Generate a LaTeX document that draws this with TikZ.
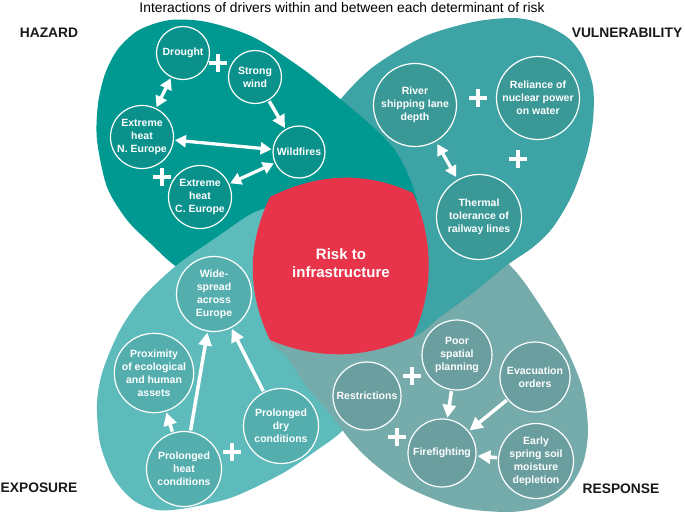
\documentclass[tikz,border=0pt]{standalone}
\usepackage{fontspec}
\setmainfont{Liberation Sans}
\usetikzlibrary{arrows.meta}
\definecolor{hazC}{RGB}{0,153,145}
\definecolor{hazD}{RGB}{10,145,139}
\definecolor{vulC}{RGB}{62,163,164}
\definecolor{vulD}{RGB}{58,152,151}
\definecolor{expC}{RGB}{93,187,187}
\definecolor{expD}{RGB}{84,174,174}
\definecolor{resC}{RGB}{117,171,170}
\definecolor{resD}{RGB}{107,158,159}
\definecolor{riskC}{RGB}{232,52,74}
\tikzset{
  drv/.style={circle, draw=white, line width=1.2pt, inner sep=0pt, align=center,
    text=white, font=\fontsize{10.5}{13}\selectfont\bfseries},
  hz/.style={drv, fill=hazD},
  vu/.style={drv, fill=vulD},
  ex/.style={drv, fill=expD},
  re/.style={drv, fill=resD},
  arr/.style={draw=white, line width=3.5pt, -{Triangle[length=13pt,width=13pt]},
    shorten >=1pt, shorten <=1pt},
  darr/.style={draw=white, line width=3.3pt,
    {Triangle[length=11pt,width=12pt]}-{Triangle[length=11pt,width=12pt]},
    shorten >=1pt, shorten <=1pt},
  lbl/.style={font=\fontsize{13.8}{16}\selectfont\bfseries, text=black!90, inner sep=0pt},
  plussign/.pic={\draw[white, line width=3.8pt] (-9,0) -- (9,0) (0,-9) -- (0,9);}
}
\begin{document}
\begin{tikzpicture}[x=1pt,y=-1pt]
\useasboundingbox[fill=white] (0,0) rectangle (685,514);

% vulnerability petal (base)
\def\vulpath{plot[smooth cycle] coordinates {(340,100) (373,67) (423,37) (473,22) (513,18) (540,23) (567,37) (583,57) (593,87) (593,120) (587,153) (573,193) (553,227) (533,247) (507,265) (473,293) (440,317) (413,337) (380,330) (330,300) (295,250) (300,180) (320,130)}}
\fill[vulC] \vulpath;
% hazard petal
\fill[hazC] plot[smooth cycle] coordinates {(333,93) (373,127) (397,153) (413,187) (421,220) (415,255) (390,280) (330,292) (260,290) (210,280) (177,267) (150,243) (127,220) (107,187) (97,140) (98,104) (105,74) (118,49) (139,30) (170,20) (207,22) (253,37) (300,67)};
% exposure petal
\fill[expC] plot[smooth cycle] coordinates {(177,265) (217,237) (253,213) (282,205) (320,205) (370,240) (395,300) (385,360) (365,405) (340,433) (317,450) (283,473) (233,497) (187,508) (157,510) (133,500) (113,477) (100,443) (97,403) (103,370) (120,330) (143,297)};
% response petal
\fill[resC] plot[smooth cycle] coordinates {(270,340) (287,357) (307,387) (333,417) (350,440) (373,463) (407,487) (457,507) (507,512) (540,507) (567,490) (583,463) (588,430) (583,390) (567,350) (543,310) (517,273) (490,250) (450,245) (400,255) (330,275) (280,310)};
% vulnerability again, above the response
\begin{scope}
  \clip (370,200) rectangle (685,514);
  \fill[vulC] \vulpath;
\end{scope}

% central shape
\fill[riskC] (270,197) .. controls (318,173) and (365,171) .. (413,193)
  .. controls (434,241) and (434,289) .. (413,337)
  .. controls (365,359) and (318,360) .. (270,340)
  .. controls (247,292) and (247,245) .. (270,197) -- cycle;
\node[text=white, align=center, font=\fontsize{15}{18.5}\selectfont\bfseries] (risk) at (341,263) {Risk to\\infrastructure};

% title and labels
\node[font=\fontsize{13.8}{16}\selectfont, inner sep=0pt] (title) at (342,8) {Interactions of drivers within and between each determinant of risk};
\node[lbl] (lhaz) at (49,33) {HAZARD};
\node[lbl] (lvul) at (627,33) {VULNERABILITY};
\node[lbl] (lexp) at (39,488) {EXPOSURE};
\node[lbl] (lres) at (621,489) {RESPONSE};

% hazard drivers
\node[hz, minimum size=53pt] (drought) at (183,53) {Drought};
\node[hz, minimum size=53pt] (wind) at (255,77) {Strong\\wind};
\node[hz, minimum size=63pt] (heatn) at (142,137) {Extreme\\heat\\N. Europe};
\node[hz, minimum size=52pt] (fire) at (299,152) {Wildfires};
\node[hz, minimum size=63pt] (heatc) at (200,197) {Extreme\\heat\\C. Europe};
\draw[darr] (drought) -- (heatn);
\draw[darr] (heatn) -- (fire);
\draw[darr] (heatc) -- (fire);
\draw[arr] (wind) -- (fire);
\pic at (218,63) {plussign};
\pic at (162,177) {plussign};

% vulnerability drivers
\node[vu, minimum size=83pt] (river) at (415,105) {River\\shipping lane\\depth};
\node[vu, minimum size=83pt] (nuclear) at (538,98) {Reliance of\\nuclear power\\on water};
\node[vu, minimum size=85pt] (rail) at (479,217) {Thermal\\tolerance of\\railway lines};
\draw[darr, shorten >=3pt, shorten <=3pt] (river) -- (rail);
\pic at (478,98) {plussign};
\pic at (518,159) {plussign};

% exposure drivers
\node[ex, minimum size=75pt] (wide) at (214,294) {Wide-\\spread\\across\\Europe};
\node[ex, minimum size=78pt] (prox) at (154,373) {Proximity\\of ecological\\and human\\assets};
\node[ex, minimum size=75pt] (heat) at (184,469) {Prolonged\\heat\\conditions};
\node[ex, minimum size=75pt] (dry) at (281,426) {Prolonged\\dry\\conditions};
\draw[arr] (heat) -- (prox);
\draw[arr] (heat) -- (wide);
\draw[arr] (dry) -- (wide);
\pic at (232,452) {plussign};

% response drivers
\node[re, minimum size=70pt] (plan) at (457,355) {Poor\\spatial\\planning};
\node[re, minimum size=68pt] (restr) at (367,396) {Restrictions};
\node[re, minimum size=70pt] (evac) at (535,377) {Evacuation\\orders};
\node[re, minimum size=68pt] (fight) at (442,453) {Firefighting};
\node[re, minimum size=75pt] (soil) at (536,461) {Early\\spring soil\\moisture\\depletion};
\draw[arr] (plan) -- (fight);
\draw[arr] (evac) -- (fight);
\draw[arr] (soil) -- (fight);
\pic at (412,376) {plussign};
\pic at (397,437) {plussign};
\end{tikzpicture}
\end{document}
